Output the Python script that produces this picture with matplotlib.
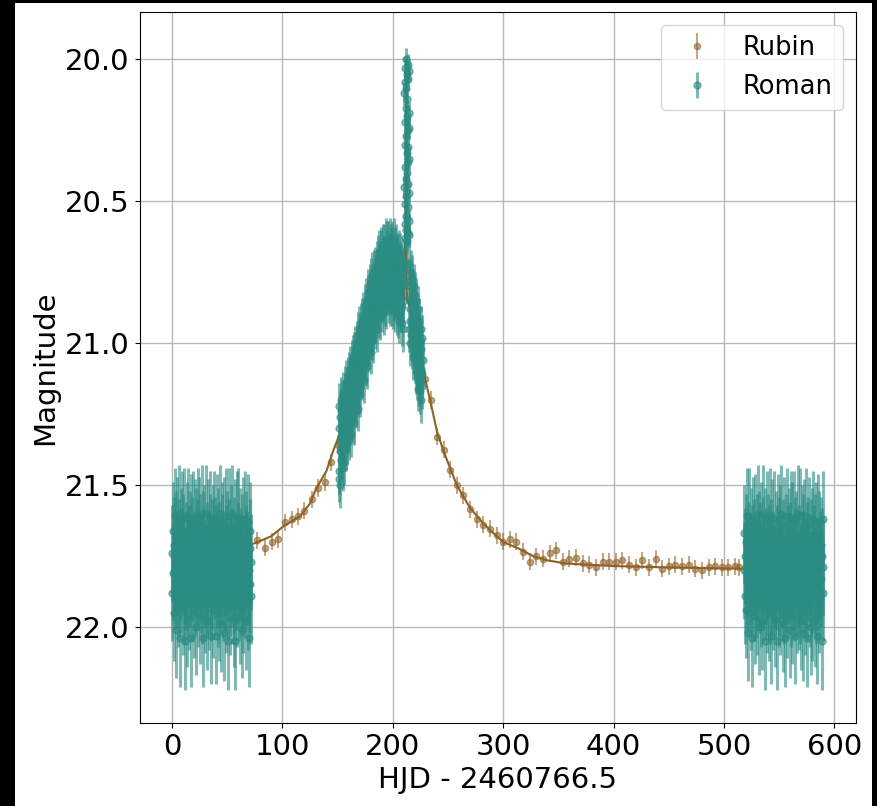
import numpy as np
import matplotlib
matplotlib.use("Agg")
import matplotlib.pyplot as plt
from matplotlib.patches import Rectangle

# ---------------- data ----------------
# Rubin observations (HJD - 2460766.5, magnitude)
rubin_t = [76.7, 84.4, 90.4, 96.5, 102.5, 108.6, 114.6, 120.0, 126.7, 132.7, 138.7, 143.9,
           150, 156, 162, 168, 174, 180, 186, 192, 198, 204, 210, 216, 222,
           229, 235, 240.4, 246.4, 251.8, 257.9, 263.9, 270, 276, 282, 288, 294,
           300, 306, 312, 318, 324, 330, 336, 342, 348, 354, 360, 366, 372, 378,
           384, 390, 396, 402, 408, 414, 420, 426, 432, 438, 444, 450, 456, 462,
           468, 474, 480, 486, 492, 498, 504, 510, 514]
rubin_mag = [21.695, 21.72, 21.70, 21.69, 21.63, 21.62, 21.61, 21.59, 21.55, 21.51, 21.49, 21.42,
             21.36, 21.27, 21.17, 21.07, 20.97, 20.88, 20.80, 20.74, 20.71, 20.74, 20.83, 20.85, 20.98,
             21.125, 21.20, 21.33, 21.375, 21.445, 21.50, 21.535, 21.585, 21.62, 21.64, 21.653, 21.677,
             21.70, 21.69, 21.70, 21.735, 21.77, 21.75, 21.76, 21.74, 21.73, 21.77, 21.76, 21.755, 21.775, 21.78,
             21.79, 21.77, 21.77, 21.77, 21.765, 21.78, 21.79, 21.765, 21.79, 21.76, 21.795, 21.785, 21.78, 21.785,
             21.78, 21.795, 21.80, 21.79, 21.785, 21.79, 21.79, 21.785, 21.79]
rubin_err = 0.03

# Model light curve
model_t = [0, 25, 50, 75, 90, 101, 116, 125, 131, 140, 146, 150, 160, 170, 180, 190, 196,
           202, 207, 210, 211.5, 212.0, 212.3, 212.6, 212.8, 213.2, 216, 220, 225, 229, 235,
           240, 246, 252, 258, 264, 270, 282, 290, 300, 315, 327, 340, 357, 375, 400,
           450, 514, 590]
model_mag = [21.755, 21.74, 21.725, 21.705, 21.68, 21.645, 21.61, 21.565, 21.51, 21.45, 21.38, 21.34,
             21.21, 21.06, 20.92, 20.80, 20.75, 20.74, 20.78, 20.84, 20.60, 20.05, 20.00, 20.57, 20.84,
             20.85, 20.88, 20.94, 21.04, 21.12, 21.22, 21.31, 21.38, 21.44, 21.50, 21.54, 21.58,
             21.635, 21.665, 21.70, 21.725, 21.75, 21.765, 21.776, 21.78, 21.785, 21.79, 21.794, 21.80]

# Roman season 1
roman1_start, roman1_end = 0.0, 72.0
roman1_mag = [
    21.74, 21.88, 21.66, 21.81, 21.95, 21.71, 21.61, 21.84, 21.78, 21.69, 22.01, 21.83,
    21.64, 21.77, 21.90, 21.72, 21.60, 21.86, 21.80, 22.04, 21.68, 21.85, 21.75, 21.62,
    21.93, 21.79, 21.70, 21.89, 21.61, 21.82, 22.05, 21.73, 21.84, 21.66, 21.97, 21.76,
    21.61, 21.87, 21.74, 21.91, 21.69, 21.83, 21.63, 22.04, 21.80, 21.71, 21.88, 21.62,
    21.81, 21.94, 21.76, 21.65, 21.86, 21.79, 22.00, 21.68, 21.84, 21.72, 21.61, 21.90,
    21.77, 21.82, 21.64, 21.96, 21.70, 21.85, 21.78, 21.60, 21.89, 21.75, 22.04, 21.69,
    21.83, 21.67, 21.92, 21.79, 21.60, 21.87, 21.73, 21.98, 21.81, 21.65, 21.85, 21.76,
    21.91, 21.70, 21.62, 21.88, 21.78, 22.03, 21.72, 21.84, 21.67, 21.94, 21.77, 21.62,
    21.86, 21.80, 21.71, 22.03, 21.74, 21.83, 21.63, 21.90, 21.79, 21.68, 21.95, 21.73,
    21.60, 21.85, 21.77, 21.99, 21.70, 21.82, 21.66, 21.88, 21.76, 22.02, 21.64, 21.84,
    21.79, 21.61, 21.92, 21.74, 21.87, 21.69, 21.81, 22.05, 21.72, 21.61, 21.86, 21.78,
    21.93, 21.67, 21.83, 21.75, 21.60, 21.89, 21.80, 21.97, 21.71, 21.85, 21.65, 22.05,
    21.77, 21.84, 21.62, 21.90, 21.73, 21.82, 21.61, 21.88, 21.79, 21.96, 21.68, 21.81,
    21.75, 22.01, 21.70, 21.86, 21.64, 21.92, 21.78, 21.83, 21.62, 21.87, 21.74, 21.98,
    21.69, 21.82, 21.76, 21.63, 21.91, 21.80, 22.04, 21.72, 21.85, 21.66, 21.89, 21.77]
roman1_err = 0.17

# Roman season 2 (rise + hump)
roman2_start, roman2_end = 151.0, 210.0
roman2_mag = [
    21.22, 21.45, 21.30, 21.48, 21.26, 21.38, 21.50, 21.24, 21.41, 21.33, 21.20, 21.36,
    21.40, 21.21, 21.34, 21.18, 21.44, 21.27, 21.31, 21.42, 21.23, 21.36, 21.19, 21.29,
    21.16, 21.33, 21.22, 21.37, 21.14, 21.28, 21.19, 21.35, 21.25, 21.13, 21.31, 21.21,
    21.30, 21.11, 21.24, 21.33, 21.15, 21.20, 21.28, 21.09, 21.26, 21.17, 21.32, 21.13,
    21.07, 21.23, 21.12, 21.27, 21.05, 21.19, 21.14, 21.28, 21.09, 21.21, 21.04, 21.17,
    21.19, 21.02, 21.14, 21.22, 21.06, 21.10, 21.18, 21.00, 21.15, 21.08, 21.23, 21.04,
    20.97, 21.13, 21.02, 21.17, 20.95, 21.09, 21.04, 21.18, 20.99, 21.11, 20.94, 21.07,
    21.09, 20.92, 21.04, 21.12, 20.96, 21.00, 21.08, 20.90, 21.05, 20.98, 21.13, 20.94,
    20.87, 21.03, 20.92, 21.07, 20.85, 20.99, 20.94, 21.08, 20.89, 21.01, 20.84, 20.97,
    20.99, 20.82, 20.94, 21.02, 20.86, 20.90, 20.98, 20.80, 20.95, 20.88, 21.03, 20.84,
    20.78, 20.94, 20.83, 20.98, 20.76, 20.90, 20.85, 20.99, 20.80, 20.92, 20.75, 20.88,
    20.91, 20.74, 20.86, 20.94, 20.78, 20.82, 20.90, 20.72, 20.87, 20.80, 20.95, 20.76,
    20.70, 20.86, 20.75, 20.90, 20.68, 20.82, 20.77, 20.91, 20.72, 20.84, 20.67, 20.80,
    20.85, 20.68, 20.80, 20.88, 20.72, 20.76, 20.84, 20.66, 20.81, 20.74, 20.89, 20.70,
    20.66, 20.82, 20.71, 20.86, 20.64, 20.78, 20.73, 20.87, 20.68, 20.80, 20.65, 20.76,
    20.82, 20.65, 20.77, 20.85, 20.69, 20.73, 20.81, 20.64, 20.78, 20.71, 20.86, 20.67,
    20.66, 20.82, 20.70, 20.86, 20.65, 20.78, 20.73, 20.87, 20.68, 20.80, 20.64, 20.76,
    20.84, 20.67, 20.79, 20.88, 20.71, 20.75, 20.83, 20.66, 20.80, 20.73, 20.89, 20.69,
    20.70, 20.86, 20.74, 20.90, 20.68, 20.82, 20.77, 20.92, 20.72, 20.84, 20.69, 20.80,
    20.88, 20.73, 20.84, 20.93, 20.76, 20.80, 20.87, 20.71, 20.85, 20.78, 20.95, 20.74]
roman2_err = 0.08

# Roman season 2 (caustic spike)
spike_start, spike_end = 210.5, 215.0
spike_mag = [20.45, 20.12, 20.58, 20.30, 20.03, 20.51, 20.22, 20.63, 20.08, 20.38,
             20.55, 20.17, 20.00, 20.42, 20.27, 20.60, 20.10, 20.48, 20.33, 20.05,
             20.56, 20.20, 20.40, 20.64, 20.14, 20.36, 20.02, 20.52, 20.25, 20.61,
             20.07, 20.44, 20.31, 20.57, 20.19, 20.47, 20.04, 20.35, 20.62, 20.24]
spike_err = 0.04

# Roman season 2 (after spike)
roman2b_start, roman2b_end = 214.5, 227.0
roman2b_mag = [20.78, 20.95, 20.72, 20.88, 21.00, 20.80, 20.92, 20.75, 20.97, 20.84,
               20.82, 21.01, 20.77, 20.93, 21.05, 20.86, 20.96, 20.80, 21.03, 20.89,
               20.87, 21.06, 20.83, 20.98, 21.10, 20.91, 21.02, 20.85, 21.08, 20.95,
               20.93, 21.12, 20.88, 21.04, 21.16, 20.97, 21.07, 20.92, 21.14, 21.00,
               20.99, 21.17, 20.95, 21.09, 21.20, 21.02, 21.11, 20.98, 21.15, 21.06]
roman2b_err = 0.08

# Roman season 3
roman3_start, roman3_end = 518.0, 590.0
roman3_mag = [
    21.80, 21.67, 21.89, 21.75, 21.94, 21.70, 21.84, 21.61, 21.79, 22.02, 21.73, 21.86,
    21.61, 21.82, 21.77, 21.91, 21.68, 21.85, 21.74, 22.04, 21.80, 21.64, 21.88, 21.72,
    21.96, 21.78, 21.63, 21.87, 21.81, 21.70, 21.93, 21.60, 21.83, 21.76, 22.00, 21.69,
    21.85, 21.73, 21.90, 21.66, 21.79, 21.98, 21.71, 21.84, 21.60, 21.88, 21.77, 22.05,
    21.68, 21.82, 21.75, 21.92, 21.62, 21.86, 21.80, 21.70, 21.95, 21.74, 21.61, 21.89,
    21.79, 22.03, 21.72, 21.85, 21.65, 21.91, 21.76, 21.83, 21.62, 21.87, 21.81, 21.97,
    21.69, 21.84, 21.74, 22.05, 21.78, 21.63, 21.90, 21.71, 21.86, 21.67, 21.93, 21.80,
    21.60, 21.88, 21.76, 21.99, 21.72, 21.83, 21.64, 21.89, 21.78, 22.04, 21.70, 21.85,
    21.81, 21.61, 21.94, 21.74, 21.87, 21.68, 21.82, 22.01, 21.73, 21.62, 21.90, 21.77,
    21.96, 21.66, 21.84, 21.79, 21.62, 21.88, 21.75, 22.03, 21.71, 21.86, 21.69, 21.92,
    21.78, 21.83, 21.60, 21.91, 21.74, 21.85, 21.61, 21.89, 21.80, 21.98, 21.67, 21.82,
    21.76, 22.02, 21.70, 21.87, 21.65, 21.93, 21.79, 21.84, 21.61, 21.88, 21.73, 22.04,
    21.71, 21.81, 21.77, 21.64, 21.90, 21.83, 22.00, 21.72, 21.86, 21.68, 21.95, 21.78,
    21.62, 21.85, 21.74, 21.97, 21.70, 21.82, 21.66, 21.89, 21.79, 22.03, 21.63, 21.84,
    21.80, 21.69, 21.92, 21.76, 21.87, 21.71, 21.83, 22.05, 21.75, 21.62, 21.88, 21.79]
roman3_err = 0.17

# ---------------- assemble Roman ----------------
segments = [
    (roman1_start, roman1_end, roman1_mag, roman1_err),
    (roman2_start, roman2_end, roman2_mag, roman2_err),
    (spike_start, spike_end, spike_mag, spike_err),
    (roman2b_start, roman2b_end, roman2b_mag, roman2b_err),
    (roman3_start, roman3_end, roman3_mag, roman3_err),
]
roman_t, roman_m, roman_e = [], [], []
for s, e, mags, err in segments:
    roman_t.append(np.linspace(s, e, len(mags)))
    roman_m.append(np.asarray(mags))
    roman_e.append(np.full(len(mags), err))
roman_t = np.concatenate(roman_t)
roman_m = np.concatenate(roman_m)
roman_e = np.concatenate(roman_e)

rubin_color = '#8f6125'
roman_color = '#2a8c82'

# ---------------- figure ----------------
fig = plt.figure(figsize=(8.77, 8.06), dpi=100)
fig.patch.set_facecolor('black')
fig.add_artist(Rectangle((15 / 877, 0), (872 - 15) / 877, (806 - 3) / 806,
                         transform=fig.transFigure, facecolor='white',
                         edgecolor='none', zorder=-10))
ax = fig.add_axes([139.5 / 877, 1 - 723 / 806, (856 - 139.5) / 877, (723 - 12) / 806])

ax.errorbar(rubin_t, rubin_mag, yerr=rubin_err, fmt='o', color=rubin_color,
            alpha=0.55, ms=4.5, elinewidth=1.5, label='Rubin', zorder=2)
ax.plot(model_t, model_mag, color=rubin_color, lw=1.5, zorder=3)
ax.errorbar(roman_t, roman_m, yerr=roman_e, fmt='o', color=roman_color,
            alpha=0.6, ms=5, elinewidth=2.2, label='Roman', zorder=4)

ax.set_xlim(-29.3, 619.5)
ax.set_ylim(22.338, 19.833)
ax.set_xticks([0, 100, 200, 300, 400, 500, 600])
ax.set_yticks([20.0, 20.5, 21.0, 21.5, 22.0])
ax.set_yticklabels(['20.0', '20.5', '21.0', '21.5', '22.0'])
ax.tick_params(labelsize=21)
ax.grid(True, color='#b8b8b8', lw=1.0)
ax.set_axisbelow(True)
ax.set_xlabel('HJD - 2460766.5', fontsize=21)
ax.set_ylabel('Magnitude', fontsize=21)
ax.legend(loc='upper right', fontsize=18.5)

fig.savefig('out.png', dpi=100, facecolor=fig.get_facecolor())
